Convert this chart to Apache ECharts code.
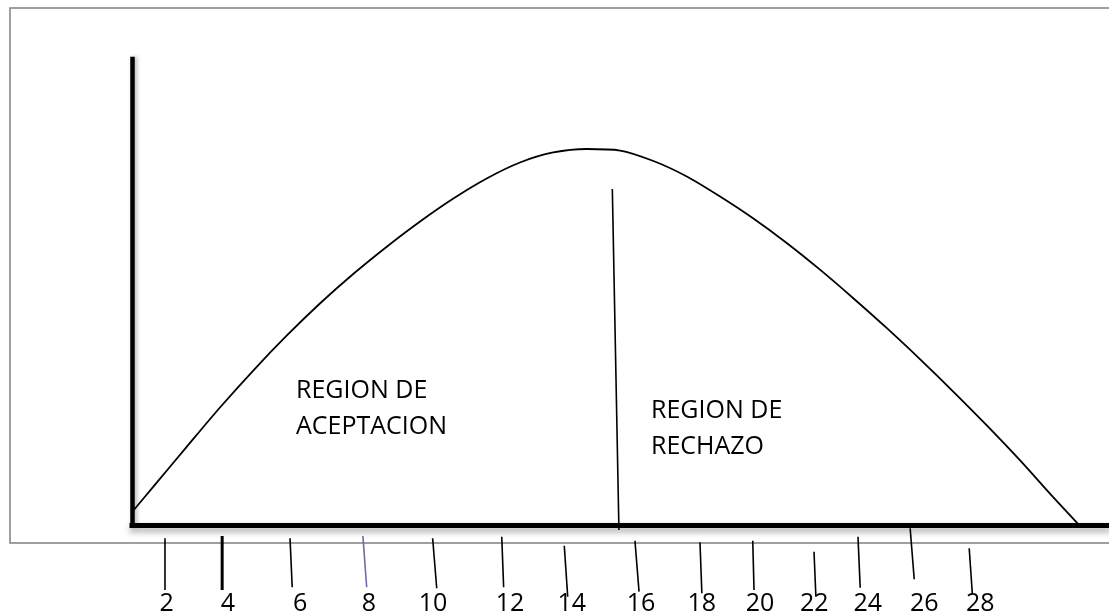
<!DOCTYPE html>
<html><head><meta charset="utf-8">
<script src="https://cdn.jsdelivr.net/npm/echarts@6/dist/echarts.min.js"></script>
<style>html,body{margin:0;padding:0;background:#fff}#c{width:1109px;height:614px}</style>
</head><body><div id="c"></div>
<script>
// Hand-drawn density curve (x in axis units, y in height units)
const curveX = [0.51, 1.18, 2.24, 3.30, 4.36, 5.43, 6.49, 7.55, 8.61, 9.67, 10.73, 11.79, 12.85, 13.91, 14.98, 16.04, 17.10, 18.16, 19.22, 20.28, 21.34, 22.40, 23.46, 24.53, 25.59, 26.65, 27.71, 28.77, 29.83, 30.62];
const curveY = [2.85, 8.22, 16.76, 25.21, 33.15, 40.67, 47.58, 53.91, 59.72, 65.13, 70.06, 74.36, 77.79, 79.94, 80.69, 80.36, 78.11, 74.79, 70.49, 65.77, 60.52, 54.79, 48.67, 42.23, 35.54, 28.58, 21.37, 13.86, 5.92, 0.21];

// Tick labels and where each hand-drawn tick sits
const tickLabels = ['2', '4', '6', '8', '10', '12', '14', '16', '18', '20', '22', '24', '26', '28'];
const tickTopX    = [1.55, 3.37, 5.53, 7.85, 10.07, 12.27, 14.26, 16.51, 18.58, 20.26, 22.21, 23.61, 25.27, 27.15];
const tickBottomX = [1.55, 3.37, 5.60, 7.97, 10.20, 12.33, 14.37, 16.64, 18.64, 20.30, 22.27, 23.68, 25.40, 27.25];
const tickTopY    = [-2.85, -2.36, -2.85, -2.36, -2.85, -2.51, -4.44, -3.37, -3.71, -3.37, -5.73, -2.51, -0.71, -5.00];
const tickBottomY = [-13.95, -13.95, -13.37, -13.37, -13.58, -13.37, -15.39, -14.31, -14.66, -13.95, -15.39, -13.46, -11.65, -14.81];
const labelX      = [1.60, 3.55, 5.85, 8.04, 10.08, 12.53, 14.50, 16.70, 18.64, 20.49, 22.22, 23.92, 25.72, 27.50];
const labelY = -16.9;

// Critical value line
const criticalX = [15.79, 16.00];
const criticalY = [72.1, -1.07];

const regionAccept = ['REGION DE', 'ACEPTACION'];
const regionReject = ['REGION DE', 'RECHAZO'];

const chart = echarts.init(document.getElementById('c'), null, {renderer: 'canvas'});
const txtFont = '25px "Open Sans"';
chart.setOption({
  animation: false,
  backgroundColor: '#fff',
  grid: {left: 132, right: 0, top: 59, bottom: 89},
  xAxis: {
    type: 'value', min: 0.5, max: 31.6,
    axisLine: {show: true, onZero: false, lineStyle: {color: '#000', width: 5, cap: 'square',
      shadowColor: 'rgba(0,0,0,0.35)', shadowBlur: 6, shadowOffsetY: 4}},
    axisTick: {show: false}, axisLabel: {show: false}, splitLine: {show: false}
  },
  yAxis: {
    type: 'value', min: 0, max: 100,
    axisLine: {show: true, lineStyle: {color: '#000', width: 4.5, cap: 'square',
      shadowColor: 'rgba(0,0,0,0.3)', shadowBlur: 4, shadowOffsetX: 2}},
    axisTick: {show: false}, axisLabel: {show: false}, splitLine: {show: false}
  },
  graphic: [
    {type: 'rect', z: -1, shape: {x: 10, y: 8, width: 1120, height: 535},
      style: {fill: 'none', stroke: '#808080', lineWidth: 1.5}},
    {type: 'text', style: {x: 296, y: 391, text: regionAccept[0], font: txtFont, fill: '#000', textVerticalAlign: 'middle'}},
    {type: 'text', style: {x: 296, y: 427, text: regionAccept[1], font: txtFont, fill: '#000', textVerticalAlign: 'middle'}},
    {type: 'text', style: {x: 651, y: 411, text: regionReject[0], font: txtFont, fill: '#000', textVerticalAlign: 'middle'}},
    {type: 'text', style: {x: 651, y: 447, text: regionReject[1], font: txtFont, fill: '#000', textVerticalAlign: 'middle'}}
  ],
  series: [
    {
      type: 'line', data: curveX.map((x, i) => [x, curveY[i]]),
      smooth: 0.3, symbol: 'none', clip: false,
      lineStyle: {color: '#000', width: 1.8}
    },
    {
      type: 'line', data: criticalX.map((x, i) => [x, criticalY[i]]),
      symbol: 'none', clip: false,
      lineStyle: {color: '#000', width: 1.6}
    },
    {
      type: 'custom', clip: false,
      data: tickLabels.map((l, i) => [labelX[i], labelY]),
      encode: {x: 0, y: 1},
      renderItem: function (params, api) {
        const i = params.dataIndex;
        const p1 = api.coord([tickTopX[i], tickTopY[i]]);
        const p2 = api.coord([tickBottomX[i], tickBottomY[i]]);
        const pl = api.coord([labelX[i], labelY]);
        return {type: 'group', children: [
          {type: 'line', shape: {x1: p1[0], y1: p1[1], x2: p2[0], y2: p2[1]},
            style: {stroke: i === 3 ? '#7b64a8' : '#000', lineWidth: i === 1 ? 3 : 1.6}},
          {type: 'text', style: {x: pl[0], y: pl[1], text: tickLabels[i], font: '25px "Open Sans"',
            fill: '#000', textAlign: 'center', textVerticalAlign: 'middle'}}
        ]};
      }
    }
  ]
});
</script></body></html>
